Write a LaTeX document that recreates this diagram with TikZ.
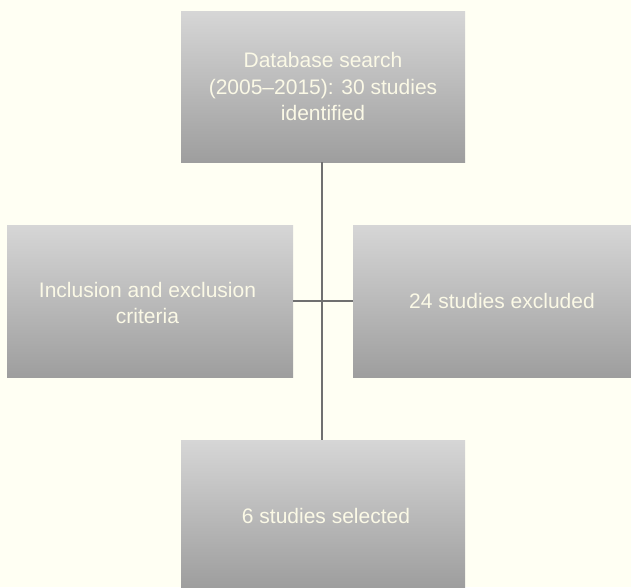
\documentclass[tikz,border=0pt]{standalone}
\usepackage{fontspec}
\setmainfont{Liberation Sans}
\definecolor{bgcream}{HTML}{FFFFF3}
\definecolor{boxtop}{HTML}{D6D6D6}
\definecolor{boxbot}{HTML}{9E9E9E}
\definecolor{txtcream}{HTML}{FBF9E6}
\definecolor{linegray}{HTML}{707070}
\begin{document}
\begin{tikzpicture}[x=1pt,y=-1pt,
  stagebox/.style={rectangle, inner sep=0pt, top color=boxtop, bottom color=boxbot,
    draw=none, text=txtcream, align=center,
    font=\fontsize{21}{26.5}\selectfont},
  link/.style={draw=linegray, line width=1.6pt}]
\fill[bgcream] (0,0) rectangle (631,587);
\useasboundingbox (0,0) rectangle (631,587);
\node[stagebox, minimum width=284pt, minimum height=151pt] (top) at (323,86.5)
  {Database search\\(2005--2015): 30 studies\\identified};
\node[stagebox, minimum width=286pt, minimum height=152pt] (left) at (150,301)
  {};
\node[txtcream, font=\fontsize{21}{26.5}\selectfont, align=center] (lefttext) at (147.5,303)
  {Inclusion and exclusion\\criteria};
\node[stagebox, minimum width=278pt, minimum height=152pt] (right) at (492,301)
  {};
\node[txtcream, font=\fontsize{21}{26.5}\selectfont] (righttext) at (502,301)
  {24 studies excluded};
\node[stagebox, minimum width=284pt, minimum height=147pt] (bottom) at (323,513.5)
  {};
\node[txtcream, font=\fontsize{21}{26.5}\selectfont] (bottomtext) at (326,516)
  {6 studies selected};
\draw[link] (top.south -| 322,0) -- (bottom.north -| 322,0);
\draw[link] (left.east) -- (right.west);
\end{tikzpicture}
\end{document}
